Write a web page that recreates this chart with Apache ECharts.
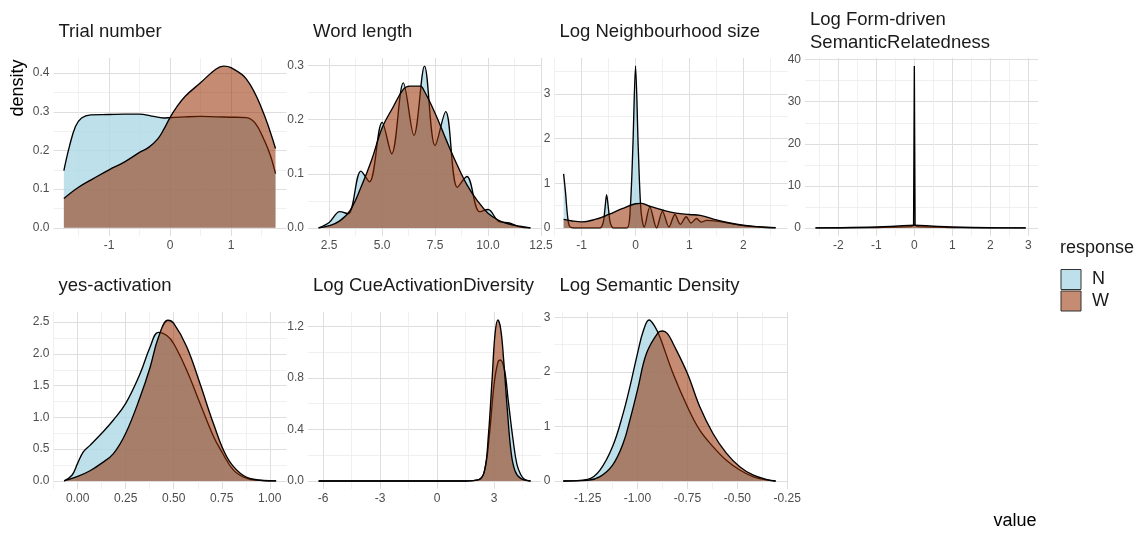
<!DOCTYPE html>
<html><head><meta charset="utf-8">
<script src="https://cdn.jsdelivr.net/npm/echarts@6/dist/echarts.min.js"></script>
<style>html,body{margin:0;padding:0;background:#fff}#c{width:1143px;height:533px}</style>
</head><body><div id="c"></div>
<script>
// ---------- data ----------
const panelTitles = ["Trial number", "Word length", "Log Neighbourhood size", "Log Form-driven\nSemanticRelatedness",
  "yes-activation", "Log CueActivationDiversity", "Log Semantic Density"];
const groups = ["N", "W"];

// Trial number
const trialNx = [-1.74,-1.65,-1.55,-1.45,-1.3,-1.0,-0.75,-0.5,-0.3,-0.1,0,0.25,0.5,0.75,1.0,1.25,1.4,1.55,1.65,1.73];
const trialNy = [0.148,0.21,0.262,0.284,0.292,0.293,0.294,0.294,0.289,0.284,0.285,0.287,0.288,0.287,0.286,0.285,0.27,0.225,0.185,0.14];
const trialWx = [-1.74,-1.5,-1.25,-1.0,-0.75,-0.5,-0.35,-0.2,-0.1,0,0.1,0.25,0.5,0.75,0.88,1.0,1.25,1.5,1.73];
const trialWy = [0.076,0.105,0.128,0.15,0.17,0.195,0.208,0.23,0.255,0.285,0.31,0.34,0.375,0.41,0.418,0.414,0.385,0.31,0.205];

// Word length
const wordNx = [2.0,2.5,3.0,3.4,4.0,4.4,5.0,5.45,6.0,6.5,7.0,7.5,8.0,8.55,9.0,9.6,10.0,10.5,11.0,11.5,12.0];
const wordNy = [0,0.01,0.03,0.026,0.105,0.085,0.195,0.137,0.268,0.171,0.299,0.152,0.215,0.075,0.095,0.03,0.034,0.012,0.009,0.002,0];
const wordWx = [2.0,2.5,3.0,3.5,4.0,4.5,5.0,5.5,6.0,6.3,6.8,7.0,7.5,8.0,8.5,9.0,9.5,10.0,10.5,11.0,11.5,12.0];
const wordWy = [0,0.004,0.013,0.033,0.075,0.125,0.185,0.222,0.256,0.262,0.262,0.252,0.212,0.165,0.12,0.08,0.05,0.027,0.014,0.007,0.003,0];

// Log Neighbourhood size
const neighNx = [-1.335,-1.3,-1.26,-1.22,-1.1,-0.66,-0.6,-0.57,-0.537,-0.5,-0.47,-0.41,-0.16,-0.1,-0.05,0,0.05,0.1,0.16,0.265,0.39,0.5,0.62,0.73,0.83,0.94,1.03,1.13,1.22,1.32,1.5,1.75,2.0,2.3,2.6];
const neighNy = [1.21,0.8,0.25,0.03,0,0,0.12,0.4,0.745,0.4,0.12,0,0,0.4,1.8,3.62,1.8,0.4,0.02,0.47,0.0,0.37,0.02,0.3,0.08,0.25,0.11,0.21,0.13,0.17,0.15,0.1,0.05,0.02,0];
const neighWx = [-1.335,-1.2,-1.0,-0.75,-0.5,-0.25,0,0.1,0.25,0.5,0.75,1.0,1.2,1.5,1.75,2.0,2.25,2.6];
const neighWy = [0.19,0.16,0.134,0.19,0.3,0.43,0.54,0.55,0.49,0.4,0.33,0.3,0.28,0.18,0.11,0.06,0.03,0.005];

// Log Form-driven SemanticRelatedness
const formNx = [-2.6,-1.0,-0.1,-0.02,0,0.02,0.1,1.0,2.93];
const formNy = [0,0.05,0.3,0.6,38.5,0.6,0.3,0.05,0];
const formWx = [-2.6,-2.0,-1.0,-0.5,0,0.5,1.0,2.0,2.93];
const formWy = [0,0.03,0.2,0.4,0.65,0.4,0.2,0.03,0];

// yes-activation
const yesNx = [-0.071,-0.03,0,0.03,0.064,0.125,0.186,0.25,0.325,0.377,0.42,0.464,0.5,0.568,0.637,0.707,0.75,0.811,0.88,0.95,1.033];
const yesNy = [0,0.09,0.28,0.46,0.56,0.75,0.96,1.22,1.69,2.11,2.34,2.29,2.16,1.74,1.22,0.7,0.46,0.17,0.04,0.01,0];
const yesWx = [-0.071,0,0.064,0.125,0.186,0.25,0.325,0.377,0.42,0.47,0.5,0.568,0.637,0.707,0.776,0.846,0.915,1.033];
const yesWy = [0,0.07,0.16,0.28,0.43,0.75,1.32,1.79,2.26,2.53,2.48,2.11,1.53,0.9,0.38,0.12,0.026,0];

// Log CueActivationDiversity
const cueNx = [-6.23,1.5,2.2,2.5,2.75,3.0,3.2,3.33,3.55,3.75,4.0,4.2,4.4,4.6,4.92];
const cueNy = [0,0,0.01,0.08,0.35,0.75,0.92,0.94,0.86,0.62,0.32,0.13,0.05,0.013,0];
const cueWx = [-6.23,1.5,2.2,2.5,2.7,2.9,3.05,3.2,3.35,3.5,3.7,3.9,4.1,4.4,4.92];
const cueWy = [0,0,0.01,0.08,0.35,0.8,1.14,1.25,1.18,0.95,0.55,0.22,0.08,0.02,0];

// Log Semantic Density
const semNx = [-1.372,-1.25,-1.188,-1.125,-1.072,-1.038,-1.0,-0.972,-0.942,-0.913,-0.888,-0.822,-0.75,-0.688,-0.622,-0.555,-0.488,-0.422,-0.35,-0.308];
const semNy = [0,0.03,0.2,0.63,1.24,1.73,2.34,2.74,2.95,2.83,2.64,1.97,1.36,0.93,0.63,0.38,0.2,0.08,0.015,0];
const semWx = [-1.372,-1.25,-1.188,-1.125,-1.072,-1.038,-1.0,-0.955,-0.897,-0.875,-0.85,-0.822,-0.75,-0.688,-0.622,-0.555,-0.488,-0.422,-0.35,-0.308];
const semWy = [0,0.012,0.08,0.29,0.69,1.12,1.67,2.34,2.72,2.75,2.7,2.52,1.97,1.36,0.87,0.51,0.26,0.11,0.025,0];

// tick labels (major breaks) and minor breaks
const xMajor = [[-1,0,1],[2.5,5,7.5,10,12.5],[-1,0,1,2],[-2,-1,0,1,2,3],[0,0.25,0.5,0.75,1],[-6,-3,0,3],[-1.25,-1,-0.75,-0.5,-0.25]];
const xMinor = [[-1.5,-0.5,0.5,1.5],[3.75,6.25,8.75,11.25],[-1.5,-0.5,0.5,1.5,2.5],[-2.5,-1.5,-0.5,0.5,1.5,2.5],[-0.125,0.125,0.375,0.625,0.875],[-4.5,-1.5,1.5,4.5],[-1.375,-1.125,-0.875,-0.625,-0.375]];
const yMajor = [[0,0.1,0.2,0.3,0.4],[0,0.1,0.2,0.3],[0,1,2,3],[0,10,20,30,40],[0,0.5,1,1.5,2,2.5],[0,0.4,0.8,1.2],[0,1,2,3]];
const yMinor = [[0.05,0.15,0.25,0.35],[0.05,0.15,0.25],[0.5,1.5,2.5,3.5],[5,15,25,35],[0.25,0.75,1.25,1.75,2.25],[0.2,0.6,1.0],[0.5,1.5,2.5]];
const xDec = [0,1,0,0,2,0,2];
const yDec = [1,1,0,0,1,1,0];

// ---------- layout / style ----------
const FONT = "Liberation Sans, Arial, sans-serif";
const NFILL = 'rgba(173,216,230,0.8)';
const WFILL = 'rgba(150,45,0,0.55)';
const colLeft = [53.5, 308, 554.5, 805];
const panelW = 233;
const rowTop = [58, 312];
const rowH = [178, 177];
const panelPos = [[0,0],[0,1],[0,2],[0,3],[1,0],[1,1],[1,2]];
const xRange = [[-1.91,1.91],[1.5,12.5],[-1.504,2.82],[-2.877,3.254],[-0.126,1.087],[-6.79,5.47],[-1.416,-0.2485]];
const yRange = [[-0.021,0.439],[-0.015,0.314],[-0.181,3.80],[-1.93,40.4],[-0.127,2.66],[-0.0625,1.3125],[-0.1475,3.0975]];
const smoothN = [0.4,0.35,0.3,false,0.4,0.4,0.4];
const smoothW = [0.4,0.4,0.4,0.4,0.4,0.4,0.4];

const seriesData = [
  [trialNx, trialNy, trialWx, trialWy],
  [wordNx, wordNy, wordWx, wordWy],
  [neighNx, neighNy, neighWx, neighWy],
  [formNx, formNy, formWx, formWy],
  [yesNx, yesNy, yesWx, yesWy],
  [cueNx, cueNy, cueWx, cueWy],
  [semNx, semNy, semWx, semWy]
];
const zip = (xs, ys) => xs.map((x, i) => [x, ys[i]]);

const grid = [], xAxis = [], yAxis = [], series = [], title = [];
panelTitles.forEach((t, i) => {
  const [r, c] = panelPos[i];
  grid.push({left: colLeft[c], top: rowTop[r], width: panelW, height: rowH[r]});
  const lab = (dec) => ({customValues: null, color: '#4d4d4d', fontSize: 12, fontFamily: FONT, margin: 4,
    formatter: v => Number(v).toFixed(dec)});
  const xl = lab(xDec[i]); xl.customValues = xMajor[i];
  const yl = lab(yDec[i]); yl.customValues = yMajor[i];
  xAxis.push({type: 'value', gridIndex: i, position: 'bottom', min: xRange[i][0], max: xRange[i][1],
    axisLine: {show: false, onZero: false}, axisTick: {show: false, customValues: xMajor[i]}, axisLabel: xl,
    splitLine: {show: true, lineStyle: {color: '#dedede', width: 1}}, z: 0});
  xAxis.push({type: 'value', gridIndex: i, position: 'top', min: xRange[i][0], max: xRange[i][1],
    axisLine: {show: false, onZero: false}, axisTick: {show: false, customValues: xMinor[i]}, axisLabel: {show: false},
    splitLine: {show: true, lineStyle: {color: '#ececec', width: 0.8}}, z: 0});
  yAxis.push({type: 'value', gridIndex: i, position: 'left', min: yRange[i][0], max: yRange[i][1],
    axisLine: {show: false, onZero: false}, axisTick: {show: false, customValues: yMajor[i]}, axisLabel: yl,
    splitLine: {show: true, lineStyle: {color: '#dedede', width: 1}}, z: 0});
  yAxis.push({type: 'value', gridIndex: i, position: 'right', min: yRange[i][0], max: yRange[i][1],
    axisLine: {show: false, onZero: false}, axisTick: {show: false, customValues: yMinor[i]}, axisLabel: {show: false},
    splitLine: {show: true, lineStyle: {color: '#ececec', width: 0.8}}, z: 0});
  const [nx, ny, wx, wy] = seriesData[i];
  [[groups[0], zip(nx, ny), NFILL, smoothN[i], 2], [groups[1], zip(wx, wy), WFILL, smoothW[i], 3]].forEach(([name, data, fill, sm, z]) => {
    series.push({type: 'line', name, xAxisIndex: 2 * i, yAxisIndex: 2 * i, data, smooth: sm, z,
      symbol: 'none', showSymbol: false, color: fill, silent: true,
      lineStyle: {color: '#000', width: 1.35}, areaStyle: {color: fill, opacity: 1}});
  });
  const multi = t.indexOf('\n') >= 0;
  title.push({text: t, left: colLeft[c] + 5, top: r === 0 ? (multi ? 8.5 : 20) : 274, padding: 0,
    textStyle: {fontSize: 18.5, fontWeight: 'normal', color: '#1a1a1a', fontFamily: FONT, lineHeight: 23}});
});
title.push({text: 'response', left: 1060, top: 237, padding: 0,
  textStyle: {fontSize: 18, fontWeight: 'normal', color: '#1a1a1a', fontFamily: FONT, lineHeight: 22}});

const chart = echarts.init(document.getElementById('c'), null, {renderer: 'canvas'});
chart.setOption({
  animation: false,
  backgroundColor: '#fff',
  title, grid, xAxis, yAxis, series,
  legend: {orient: 'vertical', left: 1060.5, top: 269, itemWidth: 20, itemHeight: 20, itemGap: 0.5, padding: 0,
    selectedMode: false, z: 4,
    textStyle: {fontSize: 18, color: '#1a1a1a', fontFamily: FONT, padding: [0, 0, 0, 6]},
    data: [
      {name: 'N', icon: 'rect', itemStyle: {color: NFILL, borderColor: '#333', borderWidth: 1}},
      {name: 'W', icon: 'rect', itemStyle: {color: WFILL, borderColor: '#333', borderWidth: 1}}
    ]},
  graphic: [
    {type: 'text', x: 18, y: 88, rotation: Math.PI / 2,
      style: {text: 'density', fontSize: 18, fontFamily: FONT, fill: '#000', align: 'center', verticalAlign: 'middle'}},
    {type: 'text', x: 1015, y: 521,
      style: {text: 'value', fontSize: 18, fontFamily: FONT, fill: '#000', align: 'center', verticalAlign: 'middle'}}
  ]
});
</script></body></html>
